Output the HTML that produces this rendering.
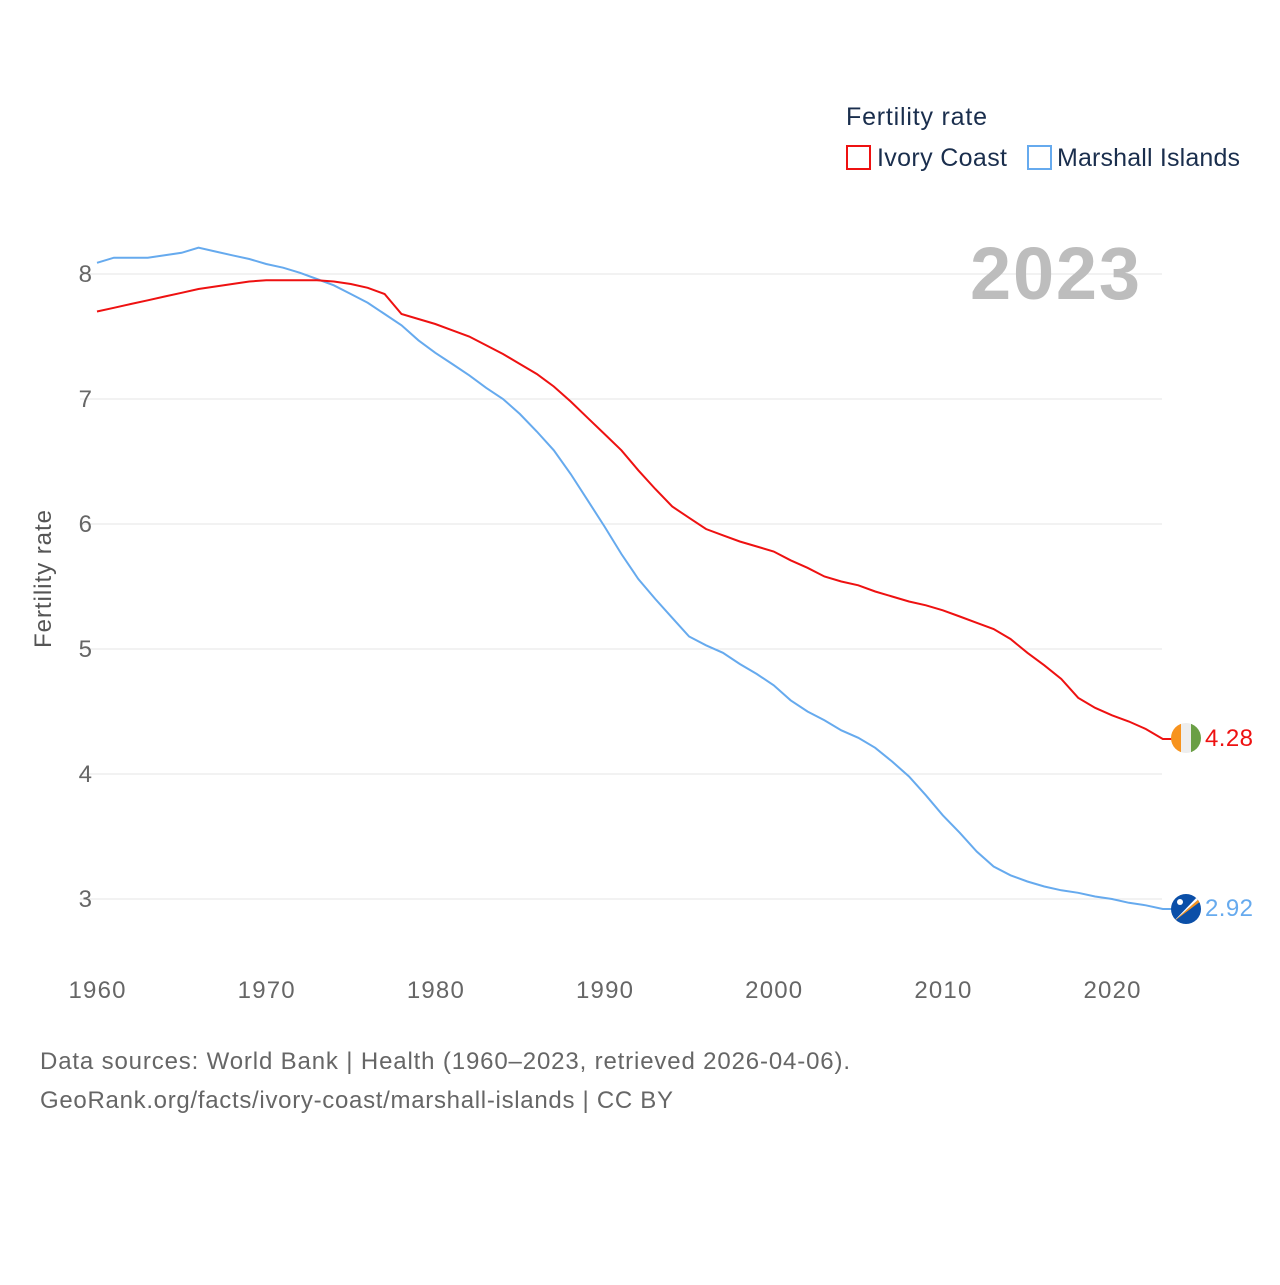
<!DOCTYPE html>
<html><head><meta charset="utf-8"><style>
body{margin:0;background:#fff;}
svg text{font-family:"Liberation Sans",sans-serif;}
</style></head><body>
<svg id="chart" width="1280" height="1280" viewBox="0 0 1280 1280">
<g id="grid"></g><g id="series"></g><g id="labels"></g>
<text x="846" y="125" font-size="25" fill="#1a2e4d" textLength="141">Fertility rate</text>
<g><rect x="847" y="146" width="23" height="23" fill="none" stroke="#ee1111" stroke-width="2"/><text x="877" y="166" font-size="25" fill="#1a2e4d" textLength="130">Ivory Coast</text></g>
<g><rect x="1028" y="146" width="23" height="23" fill="none" stroke="#66aaee" stroke-width="2"/><text x="1057" y="166" font-size="25" fill="#1a2e4d" textLength="183">Marshall Islands</text></g>
<text x="1140" y="299" text-anchor="end" font-size="74" font-weight="bold" fill="#bdbdbd" textLength="170">2023</text>
<text transform="translate(51,579) rotate(-90)" text-anchor="middle" font-size="24" fill="#555" textLength="138">Fertility rate</text>
<text x="40" y="1069" font-size="24" fill="#666" textLength="810">Data sources: World Bank | Health (1960–2023, retrieved 2026-04-06).</text>
<text x="40" y="1108" font-size="24" fill="#666" textLength="633">GeoRank.org/facts/ivory-coast/marshall-islands | CC BY</text>
<defs><clipPath id="c1"><circle cx="1186" cy="738" r="15"/></clipPath><clipPath id="c2"><circle cx="1186" cy="909" r="15"/></clipPath></defs>
<g clip-path="url(#c1)"><rect x="1171" y="723" width="10" height="30" fill="#f7931e"/><rect x="1181" y="723" width="10" height="30" fill="#eeeeee"/><rect x="1191" y="723" width="10" height="30" fill="#6a9f45"/></g>
<g clip-path="url(#c2)"><rect x="1171" y="894" width="30" height="30" fill="#0b4fa8"/><polygon points="1173,922 1201,897 1201,901" fill="#f7931e"/><polygon points="1173,922 1201,893 1201,897" fill="#fff"/><circle cx="1180" cy="902" r="3" fill="#fff"/></g>
<text x="1205" y="746" font-size="24" fill="#ee1111" textLength="48">4.28</text>
<text x="1205" y="916" font-size="24" fill="#66aaee" textLength="48">2.92</text>
</svg>
<script>
const years=[];for(let y=1960;y<=2023;y++)years.push(y);
const ivoryCoast=[7.70,7.73,7.76,7.79,7.82,7.85,7.88,7.90,7.92,7.94,7.95,7.95,7.95,7.95,7.94,7.92,7.89,7.84,7.68,7.64,7.60,7.55,7.50,7.43,7.36,7.28,7.20,7.10,6.98,6.85,6.72,6.59,6.43,6.28,6.14,6.05,5.96,5.91,5.86,5.82,5.78,5.71,5.65,5.58,5.54,5.51,5.46,5.42,5.38,5.35,5.31,5.26,5.21,5.16,5.08,4.97,4.87,4.76,4.61,4.53,4.47,4.42,4.36,4.28];
const marshall=[8.09,8.13,8.13,8.13,8.15,8.17,8.21,8.18,8.15,8.12,8.08,8.05,8.01,7.96,7.91,7.84,7.77,7.68,7.59,7.47,7.37,7.28,7.19,7.09,7.00,6.88,6.74,6.59,6.40,6.19,5.98,5.76,5.56,5.40,5.25,5.10,5.03,4.97,4.88,4.80,4.71,4.59,4.50,4.43,4.35,4.29,4.21,4.10,3.98,3.83,3.67,3.53,3.38,3.26,3.19,3.14,3.10,3.07,3.05,3.02,3.00,2.97,2.95,2.92];
const yTicks=[3,4,5,6,7,8];
const xTicks=[1960,1970,1980,1990,2000,2010,2020];
const X=y=>97+(y-1960)*(1015/60);
const Y=v=>899-(v-3)*125;
const NS='http://www.w3.org/2000/svg';
const mk=(t,a,p)=>{const e=document.createElementNS(NS,t);for(const k in a)e.setAttribute(k,a[k]);p.appendChild(e);return e;};
const grid=document.getElementById('grid'),lab=document.getElementById('labels'),ser=document.getElementById('series');
yTicks.forEach(v=>{
 const l=mk('line',{x1:80,x2:1162,y1:Y(v),y2:Y(v),stroke:'#e6e6e6','stroke-width':1},grid);
 
 
 const t=mk('text',{x:92,y:Y(v)+8,'text-anchor':'end','font-size':24,fill:'#666'},lab);t.textContent=v;
 
 
});
xTicks.forEach(v=>{
 const t=mk('text',{x:X(v),y:998,'text-anchor':'middle','font-size':24,fill:'#666',textLength:57},lab);t.textContent=v;
 
 
});
function line(vals,color,name){
 let d=vals.map((v,i)=>(i?'L':'M')+X(years[i]).toFixed(1)+','+Y(v).toFixed(1)).join(' ');
 d+=' L1172,'+Y(vals[vals.length-1]).toFixed(1);
 const p=mk('path',{d:d,fill:'none',stroke:color,'stroke-width':2},ser);
 
 
}
line(marshall,'#66aaee','marshall-islands-line');
line(ivoryCoast,'#ee1111','ivory-coast-line');
</script>
</body></html>
